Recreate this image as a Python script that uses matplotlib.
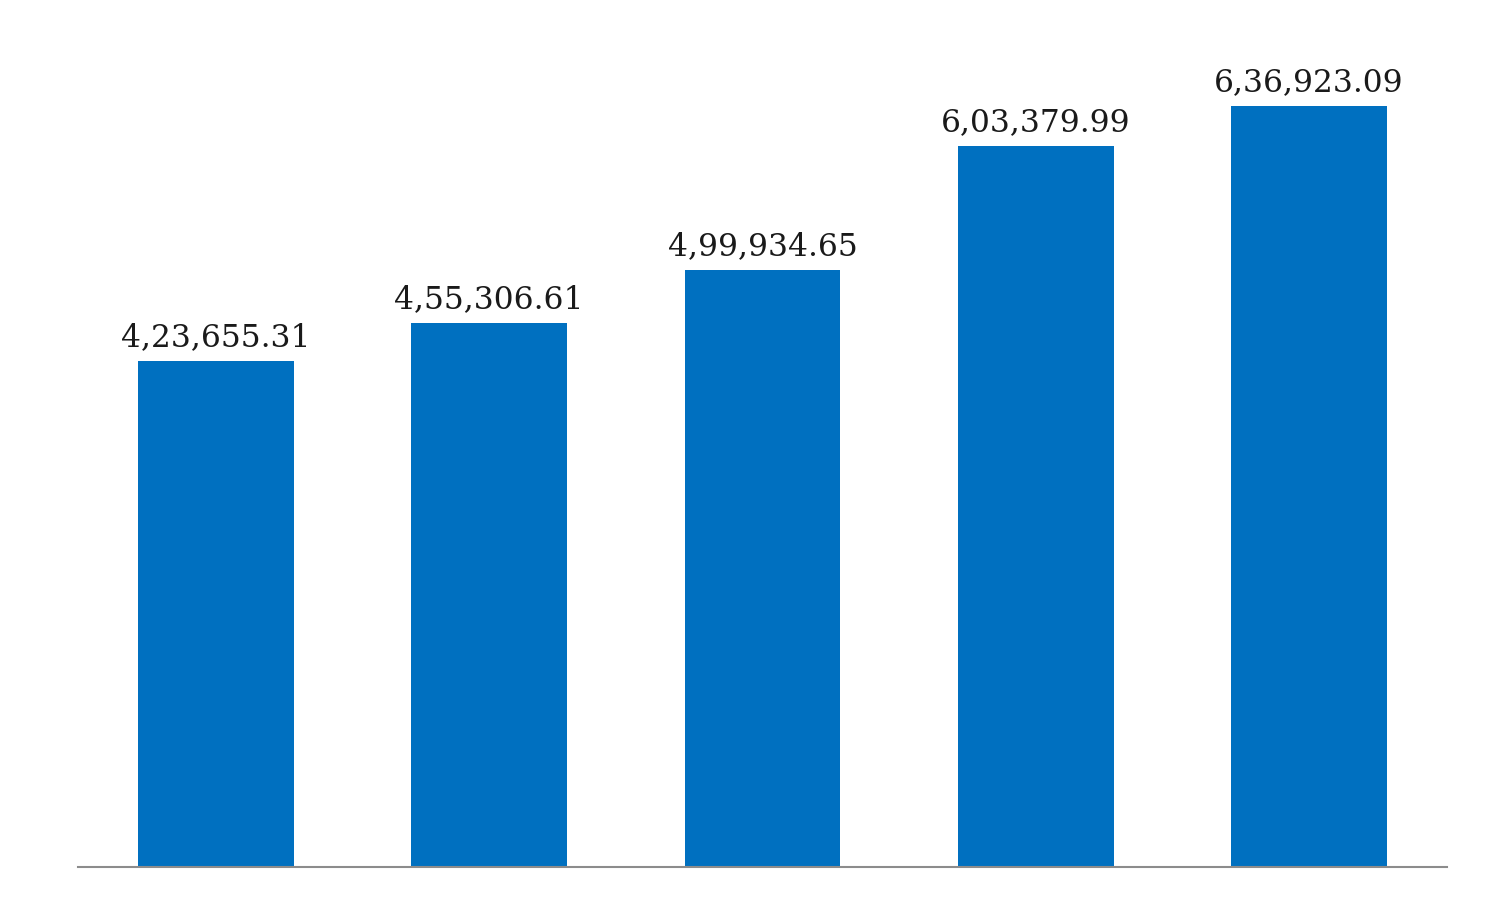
import matplotlib.pyplot as plt

# values (Indian digit grouping in labels)
values = [423655.31, 455306.61, 499934.65, 603379.99, 636923.09]
labels = ["4,23,655.31", "4,55,306.61", "4,99,934.65", "6,03,379.99", "6,36,923.09"]

fig = plt.figure(figsize=(15, 8.98), dpi=100)
# axes placed so the baseline sits at y=867px and spans x=78..1447px
ax = fig.add_axes([78 / 1500, (898 - 867) / 898, (1447 - 78) / 1500, 867 / 898])

x = list(range(len(values)))
ax.bar(x, values, width=0.57, color="#0070C0", zorder=2)

for xi, v, lab in zip(x, values, labels):
    ax.annotate(lab, (xi, v), xytext=(0, 6), textcoords="offset points",
                ha="center", va="bottom", fontsize=22.5,
                family=["DejaVu Serif"], color="#1a1a1a")

ax.set_xlim(-0.505, 4.505)
ax.set_ylim(0, 726000)
for s in ["top", "right", "left"]:
    ax.spines[s].set_visible(False)
ax.spines["bottom"].set_color("#8c8c8c")
ax.spines["bottom"].set_linewidth(1.5)
ax.set_xticks([])
ax.set_yticks([])

fig.savefig("out.png", dpi=100, facecolor="white")
